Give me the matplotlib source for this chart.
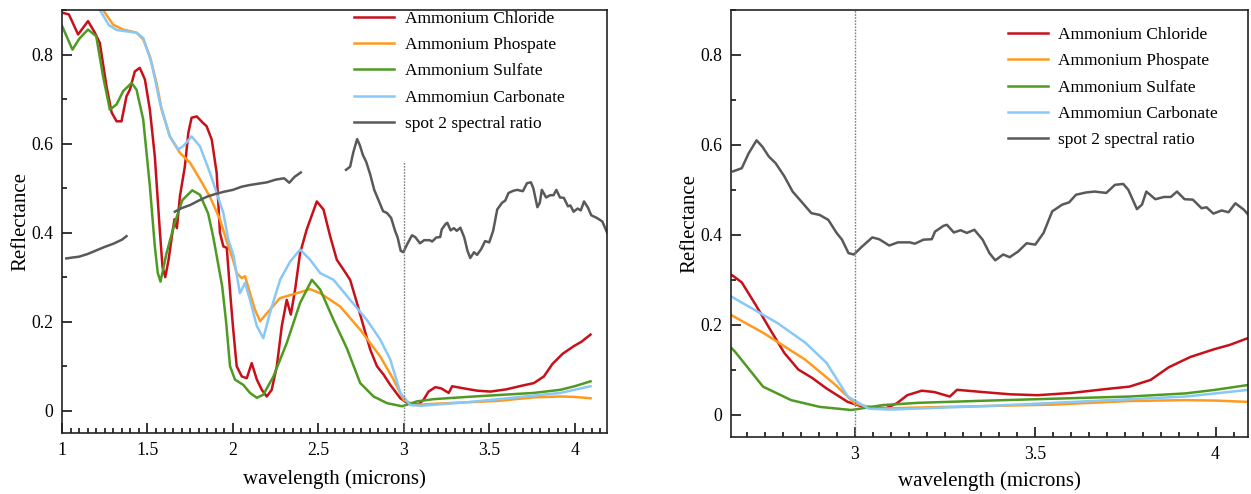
import numpy as np
import matplotlib
matplotlib.use("Agg")
import matplotlib.pyplot as plt
from matplotlib.ticker import MultipleLocator, FuncFormatter

plt.rcParams["font.family"] = ["Liberation Serif", "DejaVu Serif"]

# values (wavelength in microns, reflectance)
WL_CHLORIDE = [1.0, 1.04, 1.094, 1.152, 1.192, 1.221, 1.26, 1.29, 1.319, 1.348,
               1.377, 1.397, 1.426, 1.455, 1.485, 1.514, 1.543, 1.573, 1.588, 1.604,
               1.623, 1.646, 1.658, 1.672, 1.69, 1.719, 1.739, 1.758, 1.788, 1.826,
               1.846, 1.876, 1.905, 1.924, 1.944, 1.964, 1.985, 2.0, 2.022, 2.052,
               2.081, 2.11, 2.14, 2.169, 2.198, 2.227, 2.257, 2.286, 2.315, 2.339,
               2.364, 2.393, 2.432, 2.491, 2.53, 2.569, 2.608, 2.647, 2.686, 2.726,
               2.764, 2.804, 2.843, 2.882, 2.921, 2.98, 3.02, 3.057, 3.086, 3.116,
               3.145, 3.185, 3.22, 3.263, 3.283, 3.354, 3.43, 3.507, 3.6, 3.7,
               3.761, 3.82, 3.87, 3.93, 3.995, 4.04, 4.093]
R_CHLORIDE = [0.894, 0.89, 0.845, 0.875, 0.849, 0.826, 0.729, 0.67, 0.65, 0.65,
              0.706, 0.721, 0.762, 0.77, 0.744, 0.676, 0.571, 0.4, 0.323, 0.30,
              0.338, 0.40, 0.43, 0.41, 0.482, 0.549, 0.624, 0.658, 0.661, 0.646,
              0.639, 0.609, 0.534, 0.40, 0.369, 0.366, 0.26, 0.19, 0.10, 0.077,
              0.073, 0.107, 0.07, 0.047, 0.032, 0.047, 0.10, 0.19, 0.249, 0.216,
              0.272, 0.354, 0.407, 0.47, 0.452, 0.392, 0.339, 0.317, 0.294, 0.242,
              0.19, 0.137, 0.10, 0.081, 0.058, 0.028, 0.018, 0.016, 0.014, 0.025,
              0.043, 0.053, 0.05, 0.04, 0.055, 0.05, 0.045, 0.043, 0.048, 0.057,
              0.062, 0.077, 0.105, 0.128, 0.145, 0.155, 0.171]

WL_PHOSPATE = [1.20, 1.24, 1.299, 1.358, 1.436, 1.475, 1.514, 1.553, 1.583, 1.631,
               1.69, 1.749, 1.807, 1.866, 1.924, 1.964, 2.0, 2.022, 2.052, 2.071,
               2.1, 2.129, 2.159, 2.217, 2.276, 2.374, 2.452, 2.511, 2.628, 2.745,
               2.862, 2.94, 2.999, 3.057, 3.2, 3.37, 3.55, 3.761, 3.917, 4.0, 4.093]
R_PHOSPATE = [0.95, 0.90, 0.867, 0.856, 0.849, 0.834, 0.796, 0.736, 0.676, 0.616,
              0.579, 0.557, 0.52, 0.48, 0.43, 0.38, 0.34, 0.309, 0.298, 0.302,
              0.264, 0.227, 0.201, 0.227, 0.253, 0.264, 0.273, 0.264, 0.234, 0.182,
              0.122, 0.07, 0.025, 0.013, 0.016, 0.019, 0.022, 0.03, 0.032, 0.031, 0.028]

WL_SULFATE = [1.0, 1.061, 1.10, 1.152, 1.2, 1.24, 1.28, 1.319, 1.358, 1.407,
              1.436, 1.475, 1.514, 1.543, 1.56, 1.576, 1.611, 1.658, 1.704, 1.762,
              1.807, 1.855, 1.885, 1.937, 1.96, 1.983, 2.012, 2.061, 2.1, 2.14,
              2.178, 2.237, 2.315, 2.393, 2.462, 2.511, 2.589, 2.667, 2.745, 2.823,
              2.902, 2.99, 3.077, 3.175, 3.37, 3.761, 3.917, 4.0, 4.093]
R_SULFATE = [0.864, 0.811, 0.835, 0.856, 0.841, 0.751, 0.676, 0.688, 0.718, 0.736,
             0.721, 0.654, 0.504, 0.369, 0.31, 0.29, 0.353, 0.42, 0.473, 0.495,
             0.485, 0.443, 0.39, 0.28, 0.20, 0.10, 0.07, 0.058, 0.04, 0.029,
             0.036, 0.077, 0.152, 0.242, 0.294, 0.272, 0.204, 0.14, 0.062, 0.032,
             0.017, 0.01, 0.021, 0.026, 0.031, 0.04, 0.047, 0.055, 0.066]

WL_CARBONATE = [1.20, 1.221, 1.274, 1.32, 1.436, 1.475, 1.524, 1.573, 1.631, 1.68,
                1.709, 1.758, 1.807, 1.866, 1.905, 1.944, 1.973, 2.002, 2.041, 2.071,
                2.1, 2.14, 2.178, 2.217, 2.276, 2.335, 2.393, 2.452, 2.511, 2.589,
                2.686, 2.784, 2.862, 2.921, 2.98, 3.038, 3.097, 3.37, 3.761, 3.917, 4.093]
R_CARBONATE = [0.95, 0.90, 0.866, 0.855, 0.849, 0.837, 0.781, 0.691, 0.616, 0.587,
               0.594, 0.616, 0.594, 0.534, 0.489, 0.444, 0.384, 0.351, 0.264, 0.287,
               0.249, 0.19, 0.163, 0.22, 0.294, 0.335, 0.362, 0.339, 0.309, 0.294,
               0.249, 0.204, 0.16, 0.115, 0.04, 0.013, 0.011, 0.019, 0.034, 0.04, 0.055]

# spot 2 ratio has gaps (nan) where no data was plotted
WL_SPOT2 = [1.025, 1.06, 1.10, 1.15, 1.20, 1.25, 1.30, 1.35, 1.377, np.nan,
            1.66, 1.70, 1.75, 1.80, 1.85, 1.90, 1.95, 2.00, 2.05, 2.10,
            2.15, 2.20, 2.25, 2.30, 2.33, 2.36, 2.397, np.nan,
            2.662, 2.686, 2.705, 2.727, 2.743, 2.761, 2.78, 2.804, 2.827, 2.851,
            2.879, 2.902, 2.926, 2.949, 2.964, 2.982, 2.997, 3.02, 3.048, 3.067,
            3.095, 3.119, 3.152, 3.166, 3.19, 3.213, 3.222, 3.246, 3.255, 3.274,
            3.293, 3.31, 3.331, 3.354, 3.373, 3.389, 3.411, 3.429, 3.453, 3.476,
            3.5, 3.523, 3.547, 3.575, 3.594, 3.613, 3.641, 3.664, 3.697, 3.721,
            3.744, 3.758, 3.782, 3.796, 3.808, 3.833, 3.857, 3.876, 3.893, 3.914,
            3.937, 3.961, 3.975, 3.994, 4.017, 4.036, 4.055, 4.078, 4.097, 4.13,
            4.162, 4.19]
R_SPOT2 = [0.342, 0.344, 0.346, 0.352, 0.36, 0.368, 0.375, 0.384, 0.392, np.nan,
           0.447, 0.455, 0.462, 0.472, 0.481, 0.487, 0.492, 0.496, 0.503, 0.507,
           0.51, 0.513, 0.519, 0.522, 0.512, 0.525, 0.535, np.nan,
           0.541, 0.548, 0.581, 0.61, 0.596, 0.574, 0.559, 0.53, 0.496, 0.474,
           0.448, 0.444, 0.433, 0.404, 0.389, 0.359, 0.356, 0.374, 0.394, 0.39,
           0.376, 0.383, 0.383, 0.38, 0.389, 0.39, 0.407, 0.42, 0.422, 0.405,
           0.41, 0.404, 0.411, 0.389, 0.359, 0.343, 0.356, 0.35, 0.363, 0.381,
           0.378, 0.404, 0.452, 0.467, 0.472, 0.489, 0.494, 0.496, 0.493, 0.511,
           0.513, 0.50, 0.457, 0.467, 0.496, 0.479, 0.484, 0.484, 0.496, 0.479,
           0.478, 0.459, 0.461, 0.447, 0.454, 0.45, 0.47, 0.456, 0.439, 0.433,
           0.425, 0.40]

LABELS = ["Ammonium Chloride", "Ammonium Phospate", "Ammonium Sulfate",
          "Ammomiun Carbonate", "spot 2 spectral ratio"]
COLORS = ["#c8101a", "#ff9a1f", "#4f9a22", "#88c8f7", "#595959"]

SERIES = list(zip(
    [WL_CHLORIDE, WL_PHOSPATE, WL_SULFATE, WL_CARBONATE, WL_SPOT2],
    [R_CHLORIDE, R_PHOSPATE, R_SULFATE, R_CARBONATE, R_SPOT2],
    COLORS, LABELS))

YLIM = (-0.05, 0.9)
TICK_SIZE = 12.8
LEGEND_SIZE = 12.5
LABEL_SIZE = 15


def draw_panel(ax, xlim, vline_top, legend_anchor, ylabel_xy, xlabel_xy):
    for wl, r, color, label in SERIES:
        ax.plot(wl, r, color=color, lw=1.8, label=label)
    ax.vlines(3.0, YLIM[0], vline_top, colors="#808080",
              linestyles=(0, (1.2, 1.0)), lw=1.0)
    ax.set_xlim(*xlim)
    ax.set_ylim(*YLIM)

    ax.xaxis.set_major_locator(MultipleLocator(0.5))
    ax.xaxis.set_minor_locator(MultipleLocator(0.05))
    ax.yaxis.set_major_locator(MultipleLocator(0.2))
    ax.yaxis.set_minor_locator(MultipleLocator(0.1))
    fmt = FuncFormatter(lambda v, pos: "%g" % round(v, 2))
    ax.xaxis.set_major_formatter(fmt)
    ax.yaxis.set_major_formatter(fmt)
    ax.tick_params(which="both", direction="in", top=False, right=False,
                   width=1.1, labelsize=TICK_SIZE)
    ax.tick_params(which="major", length=7.5, pad=6.5)
    ax.tick_params(which="minor", length=3.8)
    for sp in ax.spines.values():
        sp.set_linewidth(1.2)
        sp.set_color("#222222")

    ax.set_ylabel("Reflectance", fontsize=LABEL_SIZE)
    ax.set_xlabel("wavelength (microns)", fontsize=LABEL_SIZE)
    ax.yaxis.set_label_coords(*ylabel_xy)
    ax.xaxis.set_label_coords(*xlabel_xy)

    ax.legend(loc="upper left", bbox_to_anchor=legend_anchor, frameon=False,
              fontsize=LEGEND_SIZE, handlelength=2.3, handletextpad=0.6,
              labelspacing=0.58, borderpad=0, borderaxespad=0)
    return ax


fig = plt.figure(figsize=(12.51, 4.94), dpi=100)
ax1 = fig.add_axes([0.0496, 0.1235, 0.4357, 0.8563])
ax2 = fig.add_axes([0.5843, 0.1154, 0.4133, 0.8644])

draw_panel(ax1, (1.0, 4.19), 0.56, (0.536, 0.998), (-0.059, 0.5), (0.5, -0.085))
draw_panel(ax2, (2.656, 4.09), YLIM[1], (0.536, 0.960), (-0.062, 0.5), (0.5, -0.080))

fig.savefig("out.png", dpi=100)
